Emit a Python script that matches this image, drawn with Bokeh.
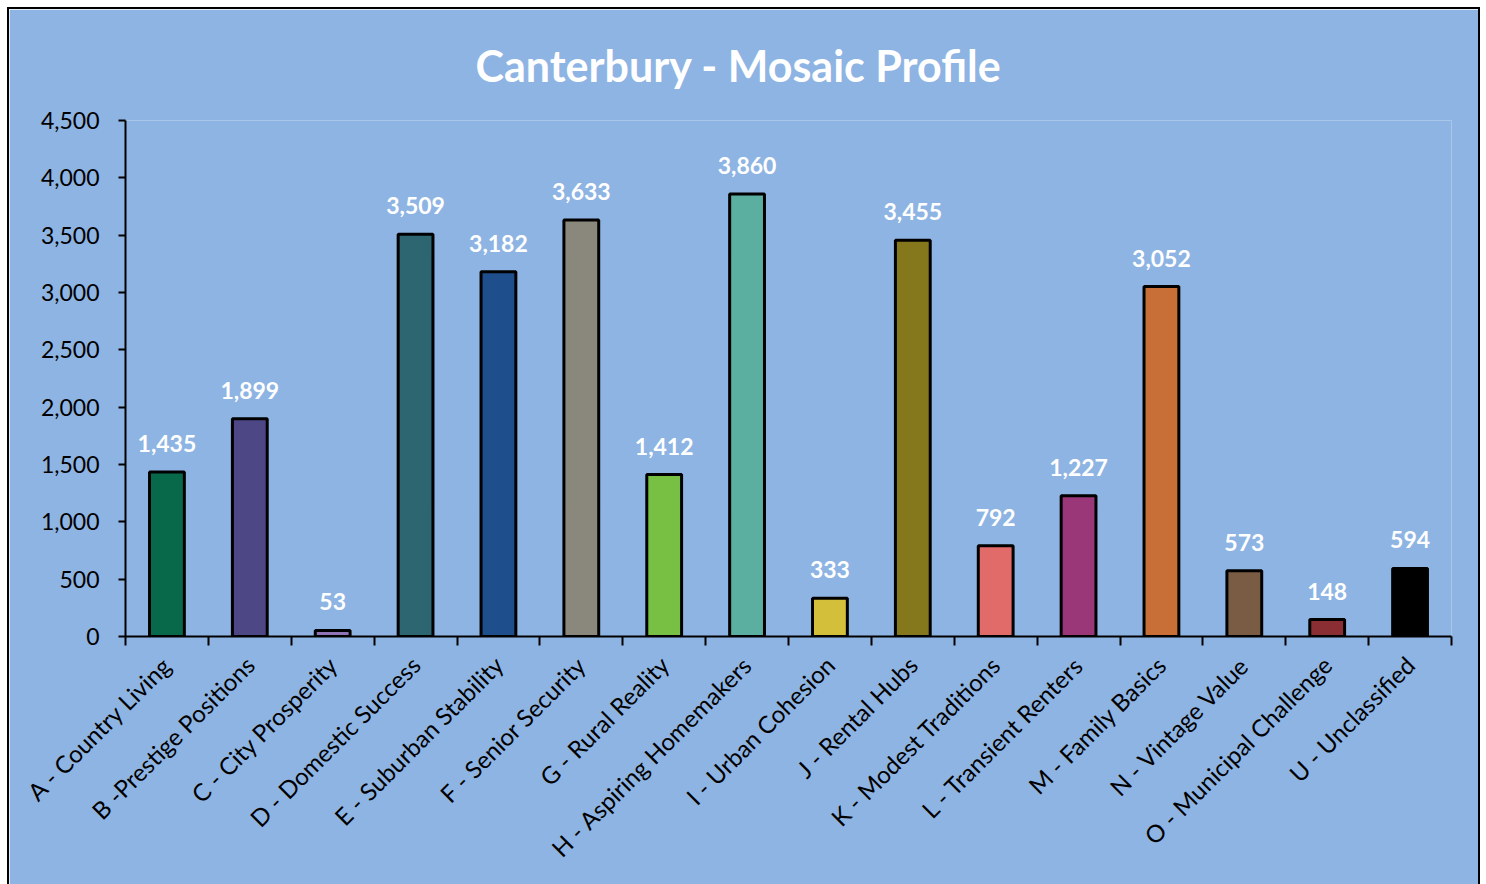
import math
from bokeh.plotting import figure
from bokeh.models import ColumnDataSource, Range1d, FixedTicker, NumeralTickFormatter, Title, LabelSet
from bokeh.core.properties import value
from bokeh.embed import file_html
from bokeh.resources import INLINE

categories = ["A - Country Living", "B -Prestige Positions", "C - City Prosperity", "D - Domestic Success",
              "E - Suburban Stability", "F - Senior Security", "G - Rural Reality", "H - Aspiring Homemakers",
              "I - Urban Cohesion", "J - Rental Hubs", "K - Modest Traditions", "L - Transient Renters",
              "M - Family Basics", "N - Vintage Value", "O - Municipal Challenge", "U - Unclassified"]
values = [1435, 1899, 53, 3509, 3182, 3633, 1412, 3860, 333, 3455, 792, 1227, 3052, 573, 148, 594]
colors = ["#07694A", "#4E4786", "#8E74B4", "#2D6570", "#1F4E8C", "#8A877C", "#77C043", "#5AAFA0",
          "#D4BF3A", "#85771C", "#E06B68", "#993778", "#C76F36", "#7A5B44", "#8B2E33", "#000000"]
y_ticks = [0, 500, 1000, 1500, 2000, 2500, 3000, 3500, 4000, 4500]
title_text = "Canterbury - Mosaic Profile"

FONT = "Lato"
BG = "#8EB4E3"

xs = [i + 0.5 for i in range(len(categories))]
src = ColumnDataSource(dict(x=xs, top=values, color=colors,
                            label=[f"{v:,}" for v in values]))

p = figure(width=1473, height=877, output_backend="svg", toolbar_location=None,
           x_range=Range1d(0, len(categories)), y_range=Range1d(0, 4500),
           min_border_left=116, min_border_right=31, min_border_top=111, min_border_bottom=250,
           background_fill_color=BG, border_fill_color=BG, outline_line_color=None)
p.styles = {"border": "2px solid black", "border-bottom": "none", "box-sizing": "border-box",
            "margin": "7px 0px 0px 7px"}

p.title = Title(text=title_text, align="left", offset=350, text_color="white",
                text_font=FONT, text_font_size="43px", text_font_style="bold",
                vertical_align="top", standoff=56)

p.vbar(x="x", top="top", width=0.42, fill_color="color", line_color="black", line_width=3, source=src)

labels = LabelSet(x="x", y="top", text="label", source=src, text_align="center",
                  text_baseline="bottom", y_offset=20, text_color="white",
                  text_font=value(FONT), text_font_size="23px", text_font_style="bold")
p.add_layout(labels)

p.xgrid.visible = False
p.ygrid.visible = False

xa = p.xaxis[0]
xa.ticker = FixedTicker(ticks=xs, minor_ticks=list(range(len(categories) + 1)))
xa.major_label_overrides = {x: c for x, c in zip(xs, categories)}
xa.major_label_orientation = math.pi / 4
xa.major_tick_out = 0
xa.major_tick_in = 0
xa.minor_tick_out = 9
xa.minor_tick_in = 0
xa.minor_tick_line_color = "black"
xa.minor_tick_line_width = 2
xa.axis_line_color = "black"
xa.axis_line_width = 2
xa.major_label_text_font = FONT
xa.major_label_text_font_size = "24px"
xa.major_label_text_color = "black"
xa.major_label_standoff = 15

ya = p.yaxis[0]
ya.ticker = FixedTicker(ticks=y_ticks, minor_ticks=[])
ya.formatter = NumeralTickFormatter(format="0,0")
ya.major_tick_out = 7
ya.major_tick_in = 0
ya.major_tick_line_color = "black"
ya.major_tick_line_width = 2
ya.axis_line_color = "black"
ya.axis_line_width = 2
ya.major_label_text_font = FONT
ya.major_label_text_font_size = "23px"
ya.major_label_text_color = "black"
ya.major_label_standoff = 19

open("out.html", "w").write(file_html(p, INLINE))
